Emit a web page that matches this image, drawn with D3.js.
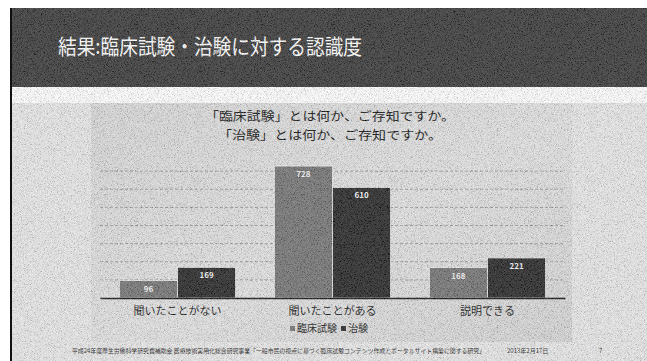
<!DOCTYPE html>
<html>
<head>
<meta charset="utf-8">
<script src="https://cdn.jsdelivr.net/npm/d3@7"></script>
<style>
  body { margin: 0; background: #fff; }
  svg { display: block; }
  text { font-family: "Noto Sans CJK JP", "Noto Sans", sans-serif; }
</style>
</head>
<body>
<div id="chart"></div>
<script>
var categories = ["聞いたことがない", "聞いたことがある", "説明できる"];
var seriesNames = ["臨床試験", "治験"];
var rinsho = [96, 728, 168];
var chiken = [169, 610, 221];
var gridTicks = [100, 200, 300, 400, 500, 600, 700];

var W = 647, H = 361;

var svg = d3.select("#chart")
  .append("svg")
    .attr("width", W)
    .attr("height", H);

var defs = svg.append("defs");

// scan grain: grey noise around mid-grey
var f = defs.append("filter").attr("id", "grain")
  .attr("x", 0).attr("y", 0).attr("width", "100%").attr("height", "100%");
f.append("feTurbulence")
  .attr("type", "fractalNoise")
  .attr("baseFrequency", 1.3)
  .attr("numOctaves", 1)
  .attr("seed", 5);
f.append("feColorMatrix")
  .attr("type", "matrix")
  .attr("values", "2.4 0 0 0 -0.7  2.4 0 0 0 -0.7  2.4 0 0 0 -0.7  0 0 0 0 1");

var bgGrad = defs.append("linearGradient").attr("id", "plotbg")
  .attr("x1", 0).attr("y1", 0).attr("x2", 1).attr("y2", 1);
bgGrad.append("stop").attr("offset", "0%").attr("stop-color", "#d6d6d6");
bgGrad.append("stop").attr("offset", "55%").attr("stop-color", "#e0e0e0");
bgGrad.append("stop").attr("offset", "100%").attr("stop-color", "#d2d2d2");

// slide background
svg.append("rect")
  .attr("x", 12).attr("y", 87)
  .attr("width", W - 12).attr("height", H - 87)
  .attr("fill", "#e6e6e6");
svg.append("rect")
  .attr("x", 12).attr("y", 87)
  .attr("width", W - 12).attr("height", 16)
  .attr("fill", "#ffffff");

// header
svg.append("rect")
  .attr("x", 12).attr("y", 8)
  .attr("width", W - 12).attr("height", 79)
  .attr("fill", "#303030");
svg.append("text")
  .attr("x", 58).attr("y", 54)
  .attr("fill", "#fff")
  .attr("font-size", 21)
  .attr("textLength", 304)
  .attr("lengthAdjust", "spacingAndGlyphs")
  .text("結果:臨床試験・治験に対する認識度");

// chart panel
svg.append("rect")
  .attr("x", 91).attr("y", 103)
  .attr("width", 481).attr("height", 239)
  .attr("fill", "url(#plotbg)");

var x0 = d3.scaleBand()
  .domain(categories)
  .range([100, 565])
  .paddingInner(0.25)
  .paddingOuter(0.125);

var x1 = d3.scaleBand()
  .domain(seriesNames)
  .range([0, x0.bandwidth()]);

var y = d3.scaleLinear()
  .domain([0, 800])
  .range([298, 153]);

var colors = ["#6e6e6e", "#1e1e1e"];

// gridlines
svg.append("g")
  .selectAll("line")
  .data(gridTicks)
  .enter()
  .append("line")
    .attr("x1", 100).attr("x2", 565)
    .attr("y1", function (d) { return y(d); })
    .attr("y2", function (d) { return y(d); })
    .attr("stroke", "#9a9a9a")
    .attr("stroke-width", 1)
    .attr("stroke-dasharray", "3,2");

var rows = categories.map(function (c, i) {
  return { cat: c, values: [rinsho[i], chiken[i]] };
});

var groups = svg.append("g")
  .selectAll("g")
  .data(rows)
  .enter()
  .append("g")
    .attr("transform", function (d) { return "translate(" + x0(d.cat) + ",0)"; });

groups.selectAll("rect")
  .data(function (d) { return d.values.map(function (v, j) { return { s: seriesNames[j], v: v, j: j }; }); })
  .enter()
  .append("rect")
    .attr("x", function (d) { return x1(d.s); })
    .attr("y", function (d) { return y(d.v); })
    .attr("width", x1.bandwidth())
    .attr("height", function (d) { return y(0) - y(d.v); })
    .attr("fill", function (d) { return colors[d.j]; })
    .attr("stroke", "#f0f0f0")
    .attr("stroke-width", 0.8);

groups.selectAll("text")
  .data(function (d) { return d.values.map(function (v, j) { return { s: seriesNames[j], v: v }; }); })
  .enter()
  .append("text")
    .attr("x", function (d) { return x1(d.s) + x1.bandwidth() / 2; })
    .attr("y", function (d) { return y(d.v) + 11; })
    .attr("text-anchor", "middle")
    .attr("font-family", "DejaVu Sans")
    .attr("font-size", 8)
    .attr("font-weight", "bold")
    .attr("fill", "#f4f4f4")
    .text(function (d) { return d.v; });

// x axis
var xAxis = svg.append("g")
  .attr("transform", "translate(0,298)")
  .call(d3.axisBottom(x0).tickSize(0).tickPadding(9));
xAxis.select(".domain")
  .attr("stroke", "#0a0a0a")
  .attr("stroke-width", 1.5);
xAxis.selectAll("text")
  .attr("font-family", "Noto Sans CJK JP")
  .attr("font-size", 11)
  .attr("fill", "#111");

// chart title
svg.append("text")
  .attr("x", 330).attr("y", 121)
  .attr("text-anchor", "middle")
  .attr("font-size", 12.5)
  .attr("fill", "#0a0a0a")
  .attr("textLength", 250)
  .attr("lengthAdjust", "spacingAndGlyphs")
  .text("「臨床試験」とは何か、ご存知ですか。");
svg.append("text")
  .attr("x", 330).attr("y", 139.5)
  .attr("text-anchor", "middle")
  .attr("font-size", 12.5)
  .attr("fill", "#0a0a0a")
  .attr("textLength", 224)
  .attr("lengthAdjust", "spacingAndGlyphs")
  .text("「治験」とは何か、ご存知ですか。");

// legend
var legendX = [290, 341];
var legend = svg.append("g")
  .selectAll("g")
  .data(seriesNames)
  .enter()
  .append("g")
    .attr("transform", function (d, i) { return "translate(" + legendX[i] + ",0)"; });
legend.append("rect")
  .attr("x", 0).attr("y", 326)
  .attr("width", 5).attr("height", 5)
  .attr("fill", function (d, i) { return colors[i]; });
legend.append("text")
  .attr("x", 7).attr("y", 332)
  .attr("font-size", 10)
  .attr("fill", "#111")
  .text(function (d) { return d; });

// footer
svg.append("text")
  .attr("x", 72).attr("y", 353)
  .attr("font-size", 6)
  .attr("fill", "#222")
  .attr("textLength", 413)
  .attr("lengthAdjust", "spacingAndGlyphs")
  .text("平成24年度厚生労働科学研究費補助金 医療技術実用化総合研究事業「一般市民の視点に基づく臨床試験コンテンツ作成とポータルサイト構築に関する研究」");
svg.append("text")
  .attr("x", 507).attr("y", 353)
  .attr("font-size", 6)
  .attr("fill", "#222")
  .text("2013年2月17日");
svg.append("text")
  .attr("x", 599).attr("y", 353)
  .attr("font-size", 6)
  .attr("fill", "#222")
  .text("7");

// grain overlay on the slide only
svg.append("rect")
  .attr("x", 12).attr("y", 8)
  .attr("width", W - 12).attr("height", H - 8)
  .attr("filter", "url(#grain)")
  .attr("opacity", 0.2)
  .attr("pointer-events", "none");

// left border line
svg.append("line")
  .attr("x1", 11).attr("x2", 11)
  .attr("y1", 8).attr("y2", H)
  .attr("stroke", "#111").attr("stroke-width", 2);
</script>
</body>
</html>
